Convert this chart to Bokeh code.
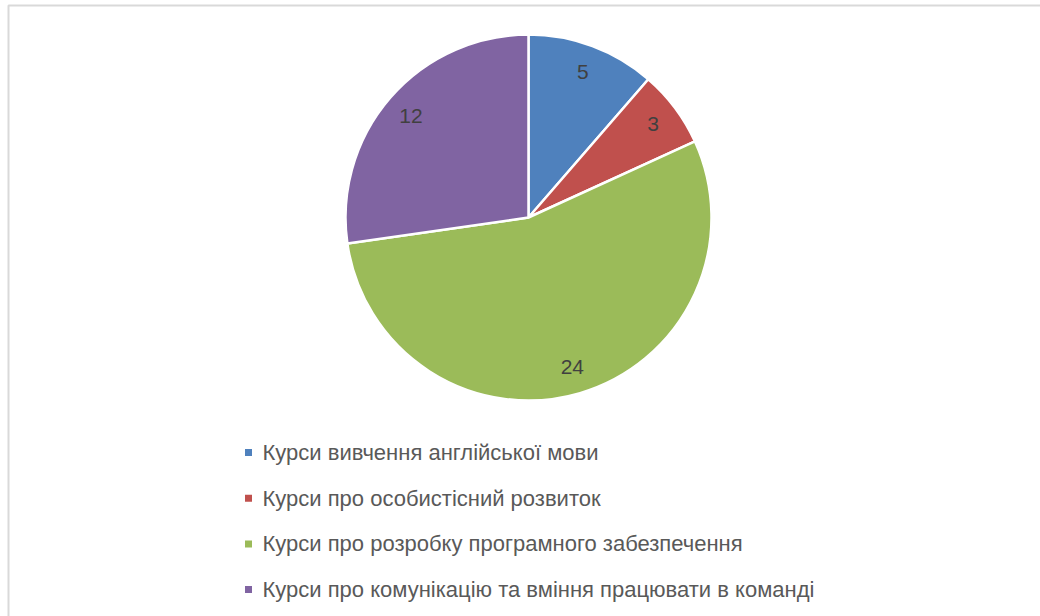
import numpy as np
from bokeh.plotting import figure
from bokeh.models import Range1d, ColumnDataSource
from bokeh.core.properties import value
from bokeh.embed import file_html
from bokeh.resources import INLINE

categories = [
    "Курси вивчення англійської мови",
    "Курси про особистісний розвиток",
    "Курси про розробку програмного забезпечення",
    "Курси про комунікацію та вміння працювати в команді",
]
values = [5, 3, 24, 12]
colors = ["#4F81BD", "#C0504D", "#9BBB59", "#8064A2"]

W, H = 1040, 616
cx, cy, R = 528, H - 217, 183

vals = np.array(values, dtype=float)
frac = vals / vals.sum()
cum = np.concatenate([[0], np.cumsum(frac)])
start = np.pi / 2 - cum[:-1] * 2 * np.pi
end = np.pi / 2 - cum[1:] * 2 * np.pi
mid = (start + end) / 2
lr = 0.85 * R

src = ColumnDataSource(dict(
    start=start, end=end, color=colors,
    lx=cx + lr * np.cos(mid), ly=cy + lr * np.sin(mid),
    label=[str(v) for v in values],
))

p = figure(width=W, height=H, output_backend="svg", toolbar_location=None,
           x_range=Range1d(0, W), y_range=Range1d(0, H),
           min_border=0, background_fill_color="white", border_fill_color="white")
p.axis.visible = False
p.grid.visible = False
p.outline_line_color = None

# chart border (top and left visible)
p.quad(left=[8], right=[W + 20], top=[H - 5], bottom=[-20],
       fill_color=None, line_color="#d9d9d9", line_width=2)

p.wedge(x=cx, y=cy, radius=R, start_angle="start", end_angle="end",
        direction="clock", fill_color="color", line_color="white",
        line_width=2.5, source=src)

p.text(x="lx", y="ly", text="label", source=src, text_align="center",
       text_baseline="middle", text_font=value("Liberation Sans"),
       text_font_size="21px", text_color="#404040")

# legend
rows = np.arange(len(categories))
ly0 = H - 452
dy = 45.7
leg = ColumnDataSource(dict(
    y=ly0 - rows * dy, color=colors, name=categories,
))
p.rect(x=248, y="y", width=7, height=7, fill_color="color",
       line_color=None, source=leg)
p.text(x=262, y="y", text="name", source=leg, text_align="left",
       text_baseline="middle", text_font=value("Liberation Sans"),
       text_font_size="22px", text_color="#595959")

open("out.html", "w").write(file_html(p, INLINE))
